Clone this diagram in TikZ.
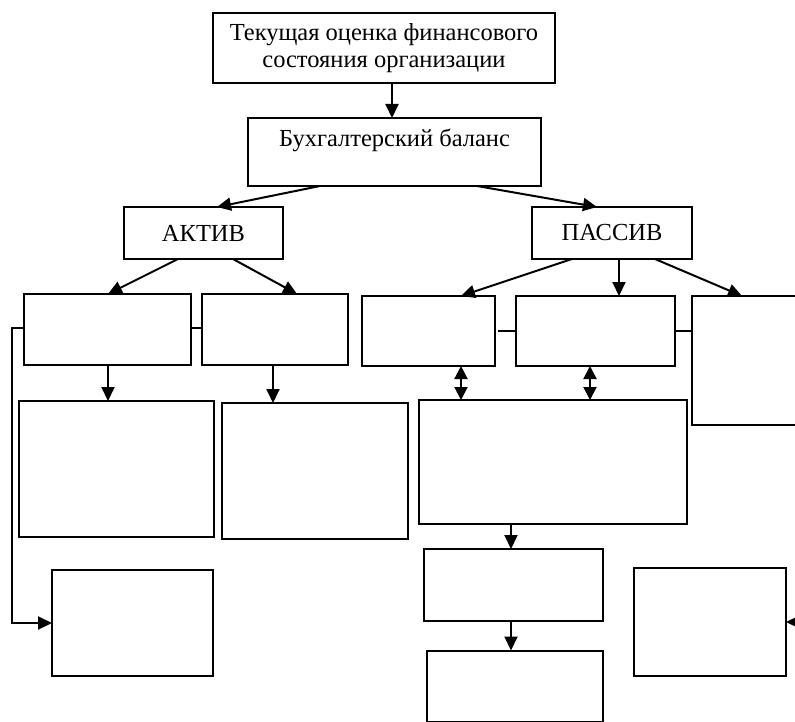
\documentclass[tikz,border=0pt]{standalone}
\usepackage{fontspec}
\setmainfont{Liberation Serif}
\usetikzlibrary{arrows.meta}
\begin{document}
\begin{tikzpicture}[x=1pt,y=-1pt,
  box/.style={draw, line width=2pt, inner sep=0pt, outer sep=0pt},
  arr/.style={line width=2pt, -{Triangle[length=14pt,width=13pt]}},
  darr/.style={line width=2pt, {Triangle[length=13pt,width=13pt]}-{Triangle[length=13pt,width=13pt]}},
  ln/.style={line width=2pt},
  txt/.style={font=\fontsize{24.5}{27}\selectfont, align=center}]
\useasboundingbox (0,0) rectangle (795,722);
% boxes
\node[box, minimum width=342, minimum height=70, txt] (top) at (384,48) {Текущая оценка финансового\\состояния организации};
\node[box, minimum width=293, minimum height=68] (bukh) at (394.5,152) {};
\node[txt, anchor=center] (bukht) at (394.5,140) {Бухгалтерский баланс};
\node[box, minimum width=159, minimum height=52, txt] (aktiv) at (203.5,233) {АКТИВ};
\node[box, minimum width=160, minimum height=52, txt] (passiv) at (612,233) {ПАССИВ};
\node[box, minimum width=167, minimum height=71] (A1) at (107.5,329.5) {};
\node[box, minimum width=146, minimum height=71] (A2) at (275,329.5) {};
\node[box, minimum width=133, minimum height=70] (P1) at (428.5,331) {};
\node[box, minimum width=159, minimum height=70] (P2) at (595.5,331) {};
\node[box, minimum width=108, minimum height=129] (P3) at (746,360.5) {};
\node[box, minimum width=195, minimum height=136] (A3) at (116.5,469) {};
\node[box, minimum width=186, minimum height=136] (A4) at (315,471) {};
\node[box, minimum width=268, minimum height=124] (P4) at (553,462) {};
\node[box, minimum width=179, minimum height=72] (P5) at (513.5,585) {};
\node[box, minimum width=176, minimum height=71] (P6) at (515,686) {};
\node[box, minimum width=161, minimum height=106] (A5) at (132.5,623) {};
\node[box, minimum width=152, minimum height=108] (R) at (710,622) {};
\coordinate (Rin) at (800,622);
% connectors
\draw[arr] ([xshift=8]top.south) -- ([xshift=-2.5]bukh.north);
\draw[arr] ([xshift=-74.5]bukh.south) -- ([xshift=13.5]aktiv.north);
\draw[arr] ([xshift=82.5]bukh.south) -- ([xshift=-15]passiv.north);
\draw[arr] ([xshift=-25.5]aktiv.south) -- ([xshift=0.5]A1.north);
\draw[arr] ([xshift=29.5]aktiv.south) -- ([xshift=22]A2.north);
\draw[arr] ([xshift=-40]passiv.south) -- ([xshift=32.5]P1.north);
\draw[arr] ([xshift=7]passiv.south) -- ([xshift=23.5]P2.north);
\draw[arr] ([xshift=43]passiv.south) -- ([xshift=-4]P3.north);
\draw[arr] ([xshift=0.5]A1.south) -- ([xshift=-8.5]A3.north);
\draw[arr] ([xshift=-2]A2.south) -- ([xshift=-42]A4.north);
\draw[darr] ([xshift=32.5]P1.south) -- ([xshift=-92]P4.north);
\draw[darr] ([xshift=-5.5]P2.south) -- ([xshift=37]P4.north);
\draw[arr] ([xshift=-42]P4.south) -- ([xshift=-2.5]P5.north);
\draw[arr] ([xshift=-2.5]P5.south) -- ([xshift=-4]P6.north);
\draw[arr] ([yshift=1.5]A1.west) -- ++(-12,0) |- (A5.west);
\draw[ln] ([yshift=1.5]A1.east) -- ([yshift=1.5]A2.west);
\draw[ln, shorten <=3pt] (P1.east) -- (P2.west);
\draw[ln] (P2.east) -- (P2.east -| P3.west);
\draw[arr] (Rin) -- (R.east);
\end{tikzpicture}
\end{document}
